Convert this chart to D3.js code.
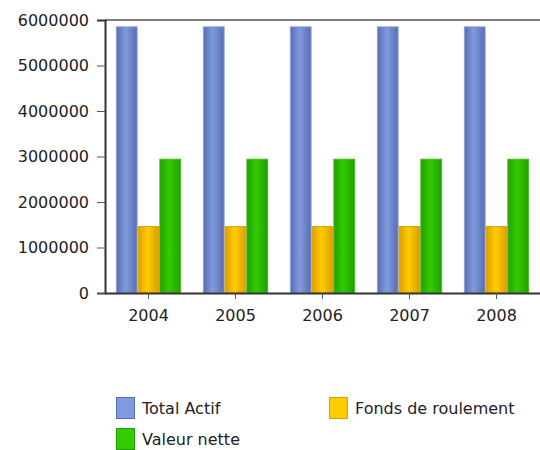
<!DOCTYPE html>
<html>
<head>
<meta charset="utf-8">
<script src="https://cdn.jsdelivr.net/npm/d3@7"></script>
<style>
  body { margin: 0; background: #fff; }
  text { font-family: "DejaVu Sans", sans-serif; fill: #222; }
</style>
</head>
<body>
<div id="chart"></div>
<script>
var years = ["2004", "2005", "2006", "2007", "2008"];
var seriesNames = ["Total Actif", "Fonds de roulement", "Valeur nette"];
var totalActif = [5850000, 5850000, 5850000, 5850000, 5850000];
var fondsRoulement = [1460000, 1460000, 1460000, 1460000, 1460000];
var valeurNette = [2940000, 2940000, 2940000, 2940000, 2940000];
var yTicks = [0, 1000000, 2000000, 3000000, 4000000, 5000000, 6000000];

var colors = [
  {edge: "#5a6db0", mid: "#7f9ae0", stroke: "#8ea2d8"},
  {edge: "#dc9e00", mid: "#ffcc00", stroke: "#d8a400"},
  {edge: "#229f00", mid: "#33cc00", stroke: "#44b822"}
];

var width = 540, height = 450;
var margin = {top: 20, right: 0, bottom: 157, left: 105};
var plotW = width - margin.left - margin.right,
    plotH = height - margin.top - margin.bottom;

var svg = d3.select("#chart").append("svg")
    .attr("width", width)
    .attr("height", height);

// horizontal gradients for the bars
var defs = svg.append("defs");
colors.forEach(function(c, i) {
  var g = defs.append("linearGradient").attr("id", "grad" + i)
      .attr("x1", "0%").attr("x2", "100%").attr("y1", "0%").attr("y2", "0%");
  g.append("stop").attr("offset", "0%").attr("stop-color", c.edge);
  g.append("stop").attr("offset", "45%").attr("stop-color", c.mid);
  g.append("stop").attr("offset", "100%").attr("stop-color", c.edge);
});

var data = years.map(function(y, i) {
  return {year: y, values: [totalActif[i], fondsRoulement[i], valeurNette[i]]};
});

var x = d3.scaleBand()
    .domain(years)
    .range([0, plotW])
    .paddingInner(0.25)
    .paddingOuter(0.125);

var x1 = d3.scaleBand()
    .domain(d3.range(seriesNames.length))
    .range([0, x.bandwidth()]);

var y = d3.scaleLinear()
    .domain([0, 6000000])
    .range([plotH, 0]);

var g = svg.append("g")
    .attr("transform", "translate(" + margin.left + "," + margin.top + ")");

// top frame line
g.append("line")
    .attr("x1", 0).attr("x2", plotW)
    .attr("y1", 0).attr("y2", 0)
    .attr("stroke", "#555").attr("stroke-width", 1.5);

var groups = g.selectAll(".grp")
    .data(data)
  .enter().append("g")
    .attr("transform", function(d) { return "translate(" + x(d.year) + ",0)"; });

groups.selectAll("rect")
    .data(function(d) { return d.values; })
  .enter().append("rect")
    .attr("x", function(d, i) { return x1(i) + 0.5; })
    .attr("width", x1.bandwidth() - 1)
    .attr("y", function(d) { return y(d); })
    .attr("height", function(d) { return plotH - y(d); })
    .attr("fill", function(d, i) { return "url(#grad" + i + ")"; })
    .attr("stroke", function(d, i) { return colors[i].stroke; })
    .attr("stroke-width", 1);

var yAxis = d3.axisLeft(y)
    .tickValues(yTicks)
    .tickSize(8)
    .tickPadding(8)
    .tickFormat(d3.format("d"));

var yg = g.append("g").call(yAxis);
yg.select(".domain").attr("stroke", "#333").attr("stroke-width", 2);
yg.selectAll(".tick line").attr("stroke", "#555");
yg.selectAll(".tick").filter(function(d) { return d === 6000000; }).select("line").remove();

var xAxis = d3.axisBottom(x)
    .tickSize(6)
    .tickSizeOuter(0)
    .tickPadding(11);

var xg = g.append("g")
    .attr("transform", "translate(0," + plotH + ")")
    .call(xAxis);
xg.select(".domain").attr("stroke", "#333").attr("stroke-width", 2);
xg.selectAll(".tick line").attr("stroke", "#555");

svg.selectAll(".tick text")
    .style("font-size", "16px")
    .style("font-family", "DejaVu Sans, sans-serif")
    .attr("fill", "#222");

// legend
var legendPos = [[116, 397], [329, 397], [116, 428]];
var legend = svg.selectAll(".legend")
    .data(seriesNames)
  .enter().append("g")
    .attr("transform", function(d, i) { return "translate(" + legendPos[i][0] + "," + legendPos[i][1] + ")"; });

legend.append("rect")
    .attr("x", 0.5).attr("y", 0.5)
    .attr("width", 18).attr("height", 21)
    .attr("fill", function(d, i) { return colors[i].mid; })
    .attr("stroke", function(d, i) { return colors[i].edge; });

legend.append("text")
    .attr("x", 26)
    .attr("y", 17)
    .style("font-size", "16px")
    .text(function(d) { return d; });
</script>
</body>
</html>
